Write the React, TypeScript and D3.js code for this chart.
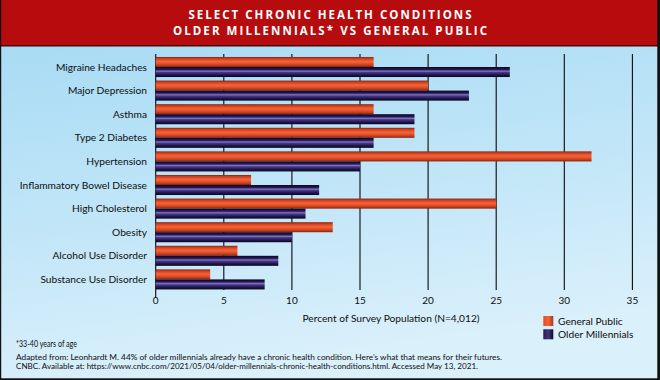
import React from "react";
import * as d3 from "d3";

const categories = [
  "Migraine Headaches",
  "Major Depression",
  "Asthma",
  "Type 2 Diabetes",
  "Hypertension",
  "Inflammatory Bowel Disease",
  "High Cholesterol",
  "Obesity",
  "Alcohol Use Disorder",
  "Substance Use Disorder",
];
const generalPublic = [16, 20, 16, 19, 32, 7, 25, 13, 6, 4];
const olderMillennials = [26, 23, 19, 16, 15, 12, 11, 10, 9, 8];
const ticks = [0, 5, 10, 15, 20, 25, 30, 35];
const seriesNames = ["General Public", "Older Millennials"];
const titleLines = ["SELECT CHRONIC HEALTH CONDITIONS", "OLDER MILLENNIALS* VS GENERAL PUBLIC"];
const axisTitle = "Percent of Survey Population (N=4,012)";
const footnotes = [
  "*33-40 years of age",
  "Adapted from: Leonhardt M. 44% of older millennials already have a chronic health condition. Here\u2019s what that means for their futures.",
  "CNBC. Available at: https://www.cnbc.com/2021/05/04/older-millennials-chronic-health-conditions.html. Accessed May 13, 2021.",
];

const W = 660;
const H = 380;
const FONT = "Lato, 'Open Sans', sans-serif";

export default function App() {
  const x = d3.scaleLinear().domain([0, 35]).range([155.7, 632.4]);
  const y = d3
    .scaleBand<string>()
    .domain(categories)
    .range([55.2, 291.2])
    .paddingInner(0.15)
    .paddingOuter(0.075);
  const bw = y.bandwidth();
  const half = bw / 2;

  return (
    <div style={{ position: "fixed", left: 0, top: 0 }}>
      <svg width={W} height={H} viewBox={`0 0 ${W} ${H}`} style={{ display: "block" }}>
        <defs>
          <linearGradient id="bg" x1="0" y1="0" x2="0.25" y2="1">
            <stop offset="0%" stopColor="#a2d9f3" />
            <stop offset="60%" stopColor="#c2e6f8" />
            <stop offset="100%" stopColor="#daf0fb" />
          </linearGradient>
          <linearGradient id="gOrange" x1="0" y1="0" x2="0" y2="1">
            <stop offset="0%" stopColor="#8a2410" />
            <stop offset="18%" stopColor="#d0401f" />
            <stop offset="45%" stopColor="#f2643a" />
            <stop offset="62%" stopColor="#e8552c" />
            <stop offset="85%" stopColor="#c23a1a" />
            <stop offset="100%" stopColor="#781e0c" />
          </linearGradient>
          <linearGradient id="gPurple" x1="0" y1="0" x2="0" y2="1">
            <stop offset="0%" stopColor="#0a0620" />
            <stop offset="25%" stopColor="#241a52" />
            <stop offset="42%" stopColor="#8670c4" />
            <stop offset="54%" stopColor="#46388a" />
            <stop offset="78%" stopColor="#20174c" />
            <stop offset="100%" stopColor="#08041a" />
          </linearGradient>
          <linearGradient id="lOrange" x1="0" y1="0" x2="1" y2="0">
            <stop offset="0%" stopColor="#e0502a" />
            <stop offset="50%" stopColor="#f2643a" />
            <stop offset="100%" stopColor="#b0361a" />
          </linearGradient>
          <linearGradient id="lPurple" x1="0" y1="0" x2="1" y2="0">
            <stop offset="0%" stopColor="#241a52" />
            <stop offset="50%" stopColor="#42347e" />
            <stop offset="100%" stopColor="#100a2a" />
          </linearGradient>
        </defs>

        <rect x={0} y={0} width={W} height={H} fill="url(#bg)" />

        {/* title band */}
        <rect x={0} y={0} width={W} height={45} fill="#b70c0e" />
        <rect x={0} y={45} width={W} height={1.5} fill="#4a0606" />
        <text
          x={W / 2}
          y={19}
          textAnchor="middle"
          fill="#ffffff"
          fontFamily="'Open Sans', sans-serif"
          fontWeight={700}
          fontSize={11.5}
          textLength={283}
          lengthAdjust="spacing"
        >
          {titleLines[0]}
        </text>
        <text
          x={W / 2}
          y={34.7}
          textAnchor="middle"
          fill="#ffffff"
          fontFamily="'Open Sans', sans-serif"
          fontWeight={700}
          fontSize={11.5}
          textLength={314}
          lengthAdjust="spacing"
        >
          {titleLines[1]}
        </text>

        {/* gridlines */}
        {ticks.map((t) => (
          <line
            key={"g" + t}
            x1={x(t)}
            x2={x(t)}
            y1={54}
            y2={t === 0 ? 298 : 290}
            stroke="#0a0a0a"
            strokeWidth={1.1}
          />
        ))}

        {/* bars */}
        {categories.map((c, i) => {
          const y0 = y(c) as number;
          return (
            <g key={c}>
              <rect
                x={x(0)}
                y={y0}
                width={x(generalPublic[i]) - x(0)}
                height={half}
                fill="url(#gOrange)"
              />
              <rect
                x={x(0)}
                y={y0 + half}
                width={x(olderMillennials[i]) - x(0)}
                height={half}
                fill="url(#gPurple)"
              />
              <text
                x={147}
                y={y0 + half + 3.5}
                textAnchor="end"
                fontFamily={FONT}
                fontSize={10.2}
                fill="#0e0e0e"
              >
                {c}
              </text>
            </g>
          );
        })}

        {/* tick labels */}
        {ticks.map((t) => (
          <text
            key={"t" + t}
            x={x(t)}
            y={304}
            textAnchor="middle"
            fontFamily={FONT}
            fontSize={10}
            fill="#0e0e0e"
          >
            {t}
          </text>
        ))}

        <text x={391} y={322} textAnchor="middle" fontFamily={FONT} fontSize={10.2} fill="#0e0e0e">
          {axisTitle}
        </text>

        {/* legend */}
        {seriesNames.map((s, i) => (
          <g key={s}>
            <rect
              x={543.3}
              y={316 + i * 13.3}
              width={10}
              height={10}
              fill={i === 0 ? "url(#lOrange)" : "url(#lPurple)"}
            />
            <text x={558} y={324.5 + i * 13.3} fontFamily={FONT} fontSize={10.2} fill="#0e0e0e">
              {s}
            </text>
          </g>
        ))}

        {/* footnotes */}
        <text x={16} y={346.5} fontFamily={FONT} fontSize={8.6} fill="#0e0e0e" textLength={61} lengthAdjust="spacingAndGlyphs">
          {footnotes[0]}
        </text>
        <text x={16} y={359.5} fontFamily={FONT} fontSize={7.8} fill="#0e0e0e" textLength={486} lengthAdjust="spacingAndGlyphs">
          {footnotes[1]}
        </text>
        <text x={16} y={368.5} fontFamily={FONT} fontSize={7.8} fill="#0e0e0e" textLength={462} lengthAdjust="spacingAndGlyphs">
          {footnotes[2]}
        </text>

        {/* border */}
        <rect x={0} y={0} width={1.2} height={H} fill="#111" />
        <rect x={657.3} y={0} width={2.7} height={H} fill="#111" />
        <rect x={0} y={378.3} width={W} height={1.7} fill="#111" />
      </svg>
    </div>
  );
}
